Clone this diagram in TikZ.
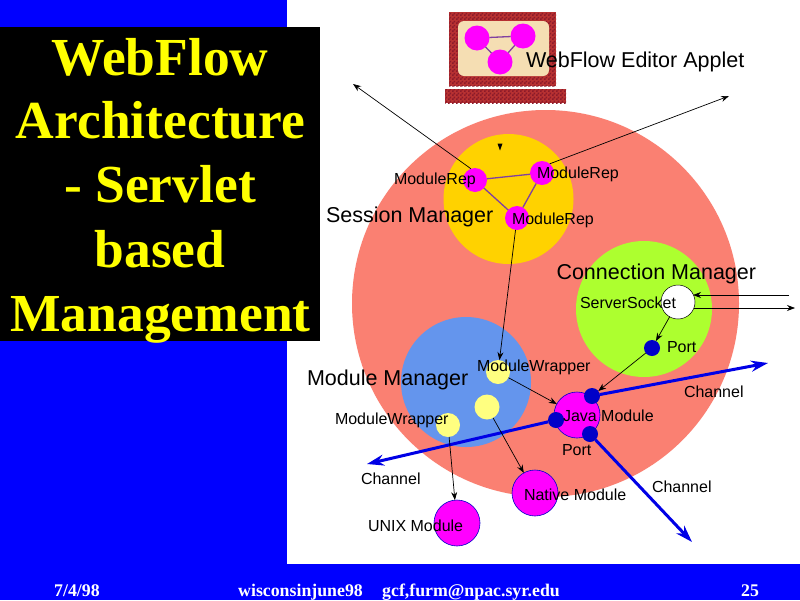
\documentclass[tikz,border=0pt]{standalone}
\usepackage{fontspec}
\setmainfont{Liberation Sans}
\newfontfamily\serifbold[Scale=1]{Liberation Serif}
\usetikzlibrary{arrows.meta,patterns}
\definecolor{slideblue}{RGB}{0,0,255}
\definecolor{salmonc}{HTML}{FA8072}
\definecolor{goldc}{HTML}{FFD200}
\definecolor{greenc}{HTML}{ADFF2F}
\definecolor{cornc}{HTML}{6495ED}
\definecolor{wrapc}{HTML}{FFFF80}
\definecolor{portc}{HTML}{0000C8}
\definecolor{chanc}{HTML}{0000E6}
\definecolor{wheatc}{HTML}{F5DEB3}
\definecolor{brickc}{HTML}{B83232}
\definecolor{brickd}{HTML}{8B1A2A}
\definecolor{linkc}{HTML}{8040A0}
\definecolor{titlec}{HTML}{FFFF00}
\definecolor{magc}{RGB}{255,0,255}
\pgfdeclarepatternformonly{brickchecks}{\pgfqpoint{0pt}{0pt}}{\pgfqpoint{4pt}{4pt}}{\pgfqpoint{4pt}{4pt}}{%
  \pgfpathrectangle{\pgfpointorigin}{\pgfqpoint{2pt}{2pt}}%
  \pgfpathrectangle{\pgfqpoint{2pt}{2pt}}{\pgfqpoint{2pt}{2pt}}%
  \pgfusepath{fill}}
\tikzset{
  x=1pt,y=-1pt,
  disc/.style={circle,inner sep=0pt,outer sep=0pt,minimum size=#1},
  rep/.style={disc=24pt,fill=magc},
  wrapper/.style={disc=24pt,fill=wrapc},
  module/.style={disc=46pt,fill=magc,draw=portc,line width=.6pt},
  portdot/.style={disc=16pt,fill=portc},
  lab/.style={anchor=base west,inner sep=0pt,outer sep=0pt,font=\fontsize{16}{16}\selectfont,text=black},
  biglab/.style={lab,font=\fontsize{21.5}{21.5}\selectfont},
  title/.style={anchor=base,inner sep=0pt,text=titlec,font=\fontsize{53.5}{53.5}\serifbold\bfseries\selectfont},
  foot/.style={anchor=base west,inner sep=0pt,text=white,font=\fontsize{17.8}{17.8}\serifbold\bfseries\selectfont},
  arr/.style={-{Stealth[length=8pt,width=6pt]},line width=.7pt,black},
  chan/.style={-{Stealth[length=17pt,width=11pt]},line width=3pt,chanc},
  link/.style={line width=1.3pt,linkc},
  brick/.style={fill=brickc,postaction={pattern=brickchecks,pattern color=brickd}}
}
\begin{document}
\begin{tikzpicture}
\useasboundingbox (0,0) rectangle (800,600);
\fill[slideblue] (0,0) rectangle (800,600);
\fill[white] (287,0) rectangle (800,564);
\fill[black] (0,27) rectangle (320,341);
% title
\node[title] (t1) at (160,75) {WebFlow};
\node[title] (t2) at (160.5,138) {Architecture};
\node[title] (t3) at (160,202) {- Servlet};
\node[title] (t4) at (160,267) {based};
\node[title] (t5) at (160.5,331) {Management};
% footer
\node[foot] (f1) at (54,596) {7/4/98};
\node[foot] (f2) at (238,596) {wisconsinjune98};
\node[foot] (f3) at (382,596) {gcf,furm@npac.syr.edu};
\node[foot] (f4) at (741,596) {25};
% applet
\path[brick] (449,12) rectangle (556,86);
\path[brick] (445,89) rectangle (566,103);
\fill[wheatc,rounded corners=6pt] (458,21) rectangle (549,76);
\node[disc=25pt,fill=magc] (a1) at (477,38) {};
\node[disc=25pt,fill=magc] (a2) at (523,36) {};
\node[disc=25pt,fill=magc] (a3) at (500,62) {};
\draw[link] (a1)--(a2) (a2)--(a3) (a3)--(a1);
% regions
\node[disc=387pt,fill=salmonc] (web) at (545.5,303.5) {};
\node[disc=130pt,fill=goldc] (sess) at (508.5,199) {};
\node[disc=136pt,fill=greenc] (conn) at (644,309) {};
\node[disc=130pt,fill=cornc] (mod) at (466,382) {};
% session manager
\node[rep] (r1) at (475,180) {};
\node[rep] (r2) at (542,173) {};
\node[rep] (r3) at (517,218) {};
\draw[link] (r1)--(r2) (r2)--(r3) (r3)--(r1);
\fill[black] (497.5,143.5) -- (502.5,143.5) -- (500,150.5) -- cycle;
% module wrappers and modules
\node[wrapper] (w1) at (498,372) {};
\node[disc=25pt,fill=wrapc] (w2) at (487,407) {};
\node[wrapper] (w3) at (448,425) {};
\node[module] (java) at (577,415) {};
\node[module] (native) at (535,493) {};
\node[module] (unix) at (457,523) {};
\node[disc=34pt,fill=white,draw=black,line width=.5pt] (sock) at (678,302) {};
% channels free ends
\coordinate (cE) at (768,363);
\coordinate (cW) at (367,464);
\coordinate (cS) at (692,542);
\node[portdot] (p0) at (652,348) {};
\node[portdot] (p1) at (592,396) {};
\node[portdot] (p2) at (556,420) {};
\node[portdot] (p3) at (590,434) {};
\draw[chan] (p1)--(cE);
\draw[chan] (p2)--(cW);
\draw[chan] (p3)--(cS);
% connectors
\coordinate (nw) at (353,84);
\coordinate (ne) at (729,96);
\coordinate (in1) at (789,295);
\coordinate (in2) at (693,295);
\coordinate (out1) at (694,308);
\coordinate (out2) at (795,308);
\draw[arr] (r1.110)--(nw);
\draw[arr] (r2.50)--(ne);
\draw[arr] (r3)--(w1);
\draw[arr] (in1)--(in2);
\draw[arr] (out1)--(out2);
\draw[arr] (sock)--(p0);
\draw[arr] (p0)--(p1);
\draw[arr] (w1)--(java);
\draw[arr] (w2)--(native);
\draw[arr] (w3)--(unix);
% labels
\node[biglab] (l1) at (526,67) {WebFlow Editor Applet};
\node[biglab] (l2) at (326,222) {Session Manager};
\node[biglab] (l3) at (556.5,279) {Connection Manager};
\node[biglab] (l4) at (307,385) {Module Manager};
\node[lab] (l5) at (394,184) {ModuleRep};
\node[lab] (l6) at (537,178) {ModuleRep};
\node[lab] (l7) at (512,224) {ModuleRep};
\node[lab] (l8) at (580,308) {ServerSocket};
\node[lab] (l9) at (667,352) {Port};
\node[lab] (l10) at (477,371) {ModuleWrapper};
\node[lab] (l11) at (335,424) {ModuleWrapper};
\node[lab] (l12) at (684,397) {Channel};
\node[lab] (l13) at (361,484) {Channel};
\node[lab] (l14) at (652,492) {Channel};
\node[lab] (l15) at (563,421) {Java Module};
\node[lab] (l16) at (562,455) {Port};
\node[lab] (l17) at (524,500) {Native Module};
\node[lab] (l18) at (368,531) {UNIX Module};
\end{tikzpicture}
\end{document}
